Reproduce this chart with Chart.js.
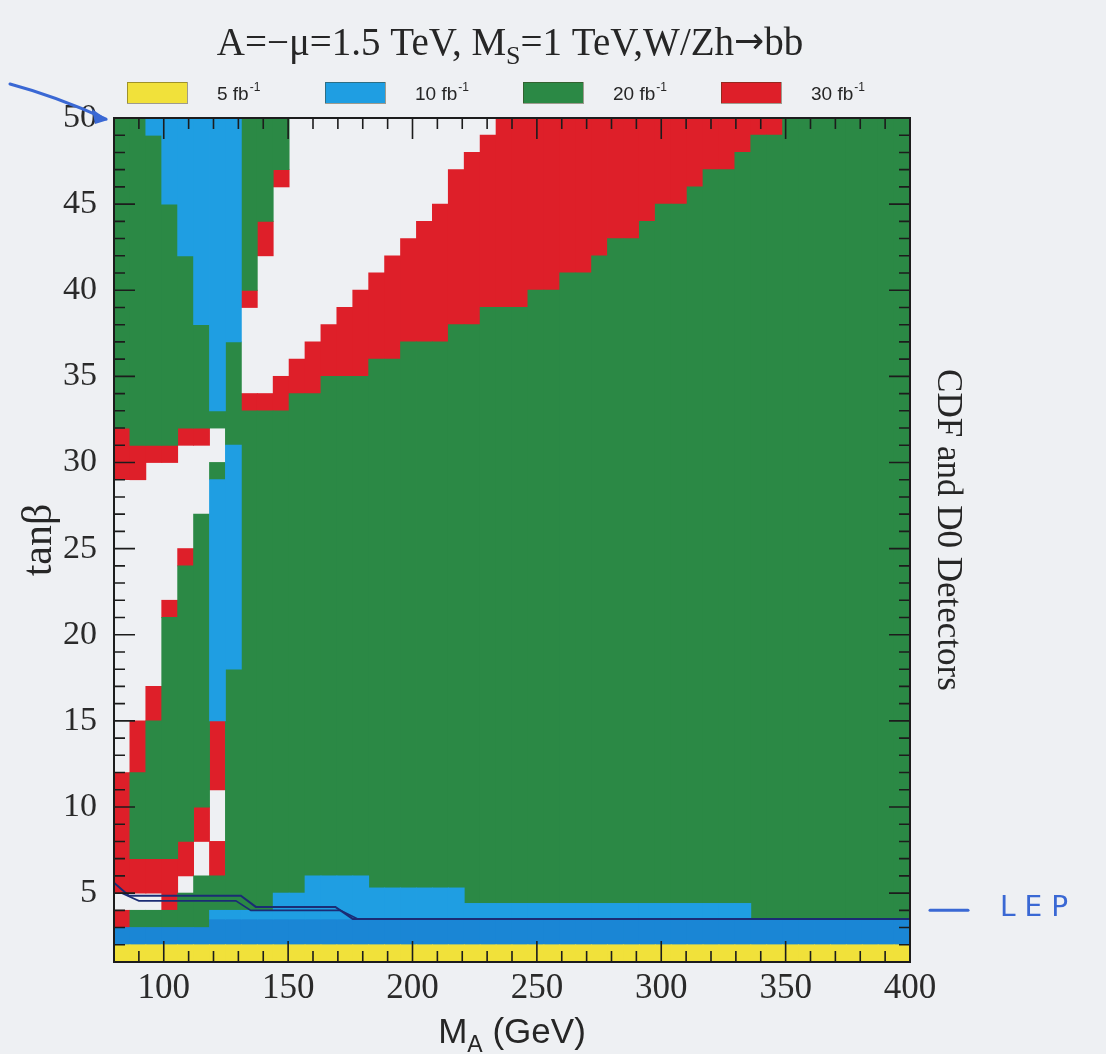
<!DOCTYPE html>
<html>
<head>
<meta charset="utf-8">
<title>W/Zh → bb reach, CDF and D0</title>
<script src="https://cdn.jsdelivr.net/npm/chart.js@4.4.1/dist/chart.umd.min.js"></script>
<style>
  html, body { margin: 0; padding: 0; background: #eef0f3; }
  #reach { display: block; }
</style>
</head>
<body>
<canvas id="reach" width="1106" height="1054"></canvas>
<script>
// M_A bin centres in GeV (50 bins of 6.4 GeV between 80 and 400)
const mA = [83.2, 89.6, 96, 102.4, 108.8, 115.2, 121.6, 128, 134.4, 140.8,
  147.2, 153.6, 160, 166.4, 172.8, 179.2, 185.6, 192, 198.4, 204.8,
  211.2, 217.6, 224, 230.4, 236.8, 243.2, 249.6, 256, 262.4, 268.8,
  275.2, 281.6, 288, 294.4, 300.8, 307.2, 313.6, 320, 326.4, 332.8,
  339.2, 345.6, 352, 358.4, 364.8, 371.2, 377.6, 384, 390.4, 396.8];

// reach cells as [first bin, last bin, tanb low, tanb high]
const reach5 = [[0, 49, 1, 2]];

const reach10 = [[2, 2, 49, 50], [3, 3, 45, 50], [4, 4, 42, 50], [5, 5, 38, 50],
  [6, 6, 33, 50], [7, 7, 37, 50], [6, 6, 15, 29], [7, 7, 18, 31],
  [6, 9, 3.5, 4], [10, 11, 3.5, 5], [12, 15, 3.5, 6], [16, 21, 3.5, 5.3],
  [22, 39, 3.5, 4.4]];

// 10 fb-1 cells under the LEP curve
const reach10lep = [[0, 5, 2, 3], [6, 49, 2, 3.5]];

const reach20 = [[0, 0, 32, 50],
  [1, 3, 3, 4], [4, 4, 3, 5], [5, 5, 3, 6],
  [1, 1, 7, 12], [2, 2, 7, 15], [3, 3, 7, 21], [4, 4, 8, 24], [5, 5, 10, 27],
  [1, 1, 31, 50], [2, 2, 31, 49], [3, 3, 31, 45], [4, 4, 32, 42], [5, 5, 32, 38],
  [6, 6, 4, 6], [6, 6, 29, 30], [6, 6, 32, 33],
  [7, 7, 4, 18], [7, 7, 31, 37],
  [8, 9, 4, 33], [8, 8, 40, 50], [9, 9, 44, 50],
  [10, 10, 5, 33], [10, 10, 47, 50],
  [11, 11, 5, 34], [12, 12, 6, 34], [13, 15, 6, 35], [16, 17, 5.3, 36],
  [18, 20, 5.3, 37], [21, 21, 5.3, 38], [22, 22, 4.4, 38], [23, 25, 4.4, 39],
  [26, 27, 4.4, 40], [28, 29, 4.4, 41], [30, 30, 4.4, 42], [31, 32, 4.4, 43],
  [33, 33, 4.4, 44], [34, 35, 4.4, 45], [36, 36, 4.4, 46], [37, 38, 4.4, 47],
  [39, 39, 4.4, 48], [40, 41, 3.5, 49], [42, 49, 3.5, 50]];

const reach30 = [[0, 0, 3, 4], [0, 0, 5, 12], [0, 0, 29, 32],
  [1, 2, 5, 7], [1, 1, 12, 15], [1, 1, 29, 31],
  [2, 2, 15, 17], [2, 3, 30, 31],
  [3, 3, 4, 7], [3, 3, 21, 22],
  [4, 4, 6, 8], [4, 4, 24, 25], [4, 5, 31, 32],
  [5, 5, 8, 10],
  [6, 6, 6, 8], [6, 6, 11, 15],
  [8, 9, 33, 34], [8, 8, 39, 40], [9, 9, 42, 44],
  [10, 10, 33, 35], [10, 10, 46, 47],
  [11, 11, 34, 36], [12, 12, 34, 37], [13, 13, 35, 38], [14, 14, 35, 39],
  [15, 15, 35, 40], [16, 16, 36, 41], [17, 17, 36, 42], [18, 18, 37, 43],
  [19, 19, 37, 44], [20, 20, 37, 45], [21, 21, 38, 47], [22, 22, 38, 48],
  [23, 23, 39, 49], [24, 25, 39, 50], [26, 27, 40, 50], [28, 29, 41, 50],
  [30, 30, 42, 50], [31, 32, 43, 50], [33, 33, 44, 50], [34, 35, 45, 50],
  [36, 36, 46, 50], [37, 38, 47, 50], [39, 39, 48, 50], [40, 41, 49, 50]];

// LEP exclusion curves, [M_A, tanb]
const lepUpper = [[80, 5.6], [86, 4.85], [131, 4.85], [137, 4.2], [169, 4.2], [176, 3.5], [400, 3.5]];
const lepLower = [[83, 5.0], [90, 4.55], [129, 4.55], [135, 4.0], [171, 4.0], [178, 3.5]];

const lumi = ['5', '10', '20', '30'];
const mTicks = [90, 100, 110, 120, 130, 140, 150, 160, 170, 180, 190, 200, 210, 220,
  230, 240, 250, 260, 270, 280, 290, 300, 310, 320, 330, 340, 350, 360, 370, 380, 390, 400];
const tanbTicks = [2, 3, 4, 5, 6, 7, 8, 9, 10, 11, 12, 13, 14, 15, 16, 17, 18, 19, 20,
  21, 22, 23, 24, 25, 26, 27, 28, 29, 30, 31, 32, 33, 34, 35, 36, 37, 38, 39, 40,
  41, 42, 43, 44, 45, 46, 47, 48, 49, 50];

const SERIF = '"Liberation Serif", "Times New Roman", serif';
const SANS = '"Liberation Sans", Arial, sans-serif';

// one floating bar per bin for every cell run
function cells(runs) {
  return runs.flatMap(([a, b, lo, hi]) => mA.slice(a, b + 1).map(x => ({ x, y: [lo, hi] })));
}
const pts = arr => arr.map(([x, y]) => ({ x, y }));

const cellStyle = {
  type: 'bar', grouped: false, categoryPercentage: 1, barPercentage: 1,
  borderWidth: 0, inflateAmount: 0.4
};
const lineStyle = {
  type: 'line', borderColor: '#1b2c74', borderWidth: 2, pointRadius: 0, fill: false, tension: 0
};

function drawRuns(ctx, runs, cx, y) {
  let total = 0;
  runs.forEach(r => { ctx.font = r[1]; total += ctx.measureText(r[0]).width; });
  let x = cx - total / 2;
  ctx.textAlign = 'left';
  runs.forEach(r => {
    ctx.font = r[1];
    ctx.fillText(r[0], x, y + (r[2] || 0));
    x += ctx.measureText(r[0]).width;
  });
}

// inward tick marks on all four sides plus the frame
const frame = {
  id: 'frame',
  afterDatasetsDraw(chart) {
    const { ctx, chartArea: a, scales: { x, y } } = chart;
    ctx.save();
    ctx.strokeStyle = '#1c1c1c';
    ctx.lineWidth = 1.6;
    ctx.beginPath();
    mTicks.forEach(v => {
      const px = x.getPixelForValue(v);
      const len = v % 50 === 0 ? 21 : 11;
      ctx.moveTo(px, a.bottom); ctx.lineTo(px, a.bottom - len);
      ctx.moveTo(px, a.top); ctx.lineTo(px, a.top + len);
    });
    tanbTicks.forEach(v => {
      const py = y.getPixelForValue(v);
      const len = v % 5 === 0 ? 21 : 11;
      ctx.moveTo(a.left, py); ctx.lineTo(a.left + len, py);
      ctx.moveTo(a.right, py); ctx.lineTo(a.right - len, py);
    });
    ctx.stroke();
    ctx.lineWidth = 2;
    ctx.strokeRect(a.left, a.top, a.width, a.height);
    ctx.restore();
  }
};

// title, key, axis titles and the pen notes
const texts = {
  id: 'texts',
  afterDraw(chart) {
    const { ctx, chartArea: a, scales: { y } } = chart;
    ctx.save();
    ctx.fillStyle = '#262626';
    ctx.textBaseline = 'alphabetic';
    drawRuns(ctx, [['A=−μ=1.5 TeV, M', '39px ' + SERIF], ['S', '26px ' + SERIF, 9],
      ['=1 TeV,W/Zh', '39px ' + SERIF], ['→', '36px "DejaVu Sans", sans-serif', -2],
      ['bb', '39px ' + SERIF]], 510, 55);

    const keyColors = ['#f1e13a', '#1f9ee2', '#2b8945', '#de1f29'];
    lumi.forEach((l, i) => {
      const x0 = a.left + 13 + i * 198;
      ctx.fillStyle = keyColors[i];
      ctx.fillRect(x0, 82, 60, 21);
      ctx.strokeStyle = 'rgba(60,50,20,0.45)';
      ctx.lineWidth = 1;
      ctx.strokeRect(x0 + 0.5, 82.5, 60, 21);
      ctx.fillStyle = '#262626';
      ctx.font = '19px ' + SANS;
      ctx.textAlign = 'left';
      const t = l + ' fb';
      ctx.fillText(t, x0 + 90, 100);
      const w = ctx.measureText(t).width;
      ctx.font = '12px ' + SANS;
      ctx.fillText('-1', x0 + 91 + w, 91);
    });

    ctx.fillStyle = '#262626';
    drawRuns(ctx, [['M', '35px ' + SANS], ['A', '23px ' + SANS, 9], [' (GeV)', '35px ' + SANS]],
      a.left + a.width / 2, 1043);

    ctx.textAlign = 'center';
    ctx.textBaseline = 'middle';
    ctx.save();
    ctx.translate(40, (a.top + a.bottom) / 2);
    ctx.rotate(-Math.PI / 2);
    ctx.font = '42px ' + SERIF;
    ctx.fillText('tanβ', 0, 0);
    ctx.restore();

    ctx.save();
    ctx.translate(a.right + 37, 530);
    ctx.rotate(Math.PI / 2);
    ctx.font = '35px ' + SERIF;
    ctx.fillText('CDF and D0 Detectors', 0, 0);
    ctx.restore();

    // blue ink notes
    ctx.strokeStyle = '#3a68d4';
    ctx.fillStyle = '#3a68d4';
    ctx.lineWidth = 3;
    ctx.lineCap = 'round';
    const lepY = y.getPixelForValue(4);
    ctx.beginPath();
    ctx.moveTo(a.right + 20, lepY);
    ctx.lineTo(a.right + 58, lepY);
    ctx.stroke();
    ctx.font = '28px "DejaVu Sans", sans-serif';
    ctx.textAlign = 'left';
    ctx.letterSpacing = '9px';
    ctx.fillText('LEP', a.right + 90, lepY - 2);
    ctx.letterSpacing = '0px';

    const tipX = a.left - 8, tipY = a.top + 1;
    ctx.beginPath();
    ctx.moveTo(10, 84);
    ctx.quadraticCurveTo(55, 96, tipX, tipY);
    ctx.stroke();
    ctx.beginPath();
    ctx.moveTo(tipX + 2, tipY + 1);
    ctx.lineTo(tipX - 14, tipY - 10);
    ctx.lineTo(tipX - 11, tipY + 5);
    ctx.closePath();
    ctx.fill();
    ctx.restore();
  }
};

Chart.defaults.font.family = SERIF;
Chart.defaults.color = '#2a2a2a';

new Chart(document.getElementById('reach'), {
  type: 'bar',
  data: {
    datasets: [
      { ...lineStyle, label: 'LEP', data: pts(lepUpper) },
      { ...lineStyle, label: 'LEP', data: pts(lepLower), borderWidth: 1.6 },
      { ...cellStyle, label: '5 fb⁻¹', data: cells(reach5), backgroundColor: '#f1e13a' },
      { ...cellStyle, label: '10 fb⁻¹', data: cells(reach10), backgroundColor: '#1f9ee2' },
      { ...cellStyle, label: '10 fb⁻¹ LEP', data: cells(reach10lep), backgroundColor: '#1a86d5' },
      { ...cellStyle, label: '20 fb⁻¹', data: cells(reach20), backgroundColor: '#2b8945' },
      { ...cellStyle, label: '30 fb⁻¹', data: cells(reach30), backgroundColor: '#de1f29' }
    ]
  },
  options: {
    responsive: false,
    animation: false,
    layout: { padding: { top: 118, right: 196, bottom: 0, left: 0 } },
    plugins: { legend: { display: false }, tooltip: { enabled: false } },
    scales: {
      x: {
        type: 'linear', min: 80, max: 400, offset: false,
        grid: { display: false, offset: false, drawTicks: false },
        border: { display: false },
        afterBuildTicks: s => { s.ticks = mTicks.map(value => ({ value })); },
        afterFit: s => { s.height = 92; },
        ticks: {
          autoSkip: false, maxRotation: 0, padding: 6,
          font: { size: 35 },
          callback: v => (v % 50 === 0 ? v : '')
        }
      },
      y: {
        type: 'linear', min: 1, max: 50,
        grid: { display: false, drawTicks: false },
        border: { display: false },
        afterBuildTicks: s => { s.ticks = tanbTicks.map(value => ({ value })); },
        afterFit: s => { s.width = 114; },
        ticks: {
          autoSkip: false, padding: 17,
          font: { size: 34 },
          callback: v => (v % 5 === 0 ? v : '')
        }
      }
    }
  },
  plugins: [frame, texts]
});
</script>
</body>
</html>
